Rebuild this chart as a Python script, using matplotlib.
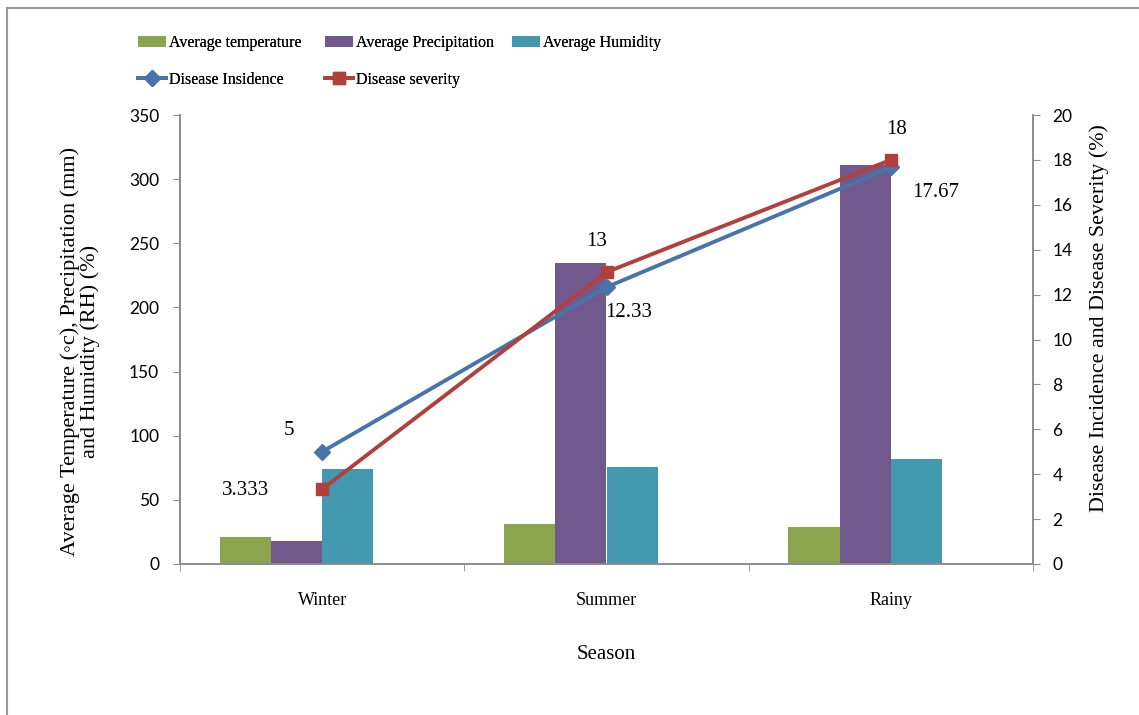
import matplotlib
matplotlib.use("Agg")
import matplotlib.pyplot as plt
import numpy as np
from matplotlib.lines import Line2D

seasons = ["Winter", "Summer", "Rainy"]
avg_temperature = [21, 31, 28.5]
avg_precipitation = [18, 235, 311]
avg_humidity = [74, 76, 82]
disease_incidence = [5, 12.33, 17.67]
disease_severity = [3.333, 13, 18]
incidence_labels = ["5", "12.33", "17.67"]
severity_labels = ["3.333", "13", "18"]

c_temp = "#8BA54E"
c_prec = "#72598D"
c_hum = "#4399B0"
c_inc = "#4674AB"
c_sev = "#B1403D"
grey = "#8C8C8C"
serif = "Liberation Serif"
sans = "Lato"

W, H = 1139, 715
fig = plt.figure(figsize=(W/100, H/100), dpi=100)
# chart-area border (left and top edges visible)
fig.add_artist(Line2D([7/W, 7/W], [0, 1-7.5/H], transform=fig.transFigure, color="#9A9A9A", lw=1.5))
fig.add_artist(Line2D([7/W, 1], [1-7.5/H, 1-7.5/H], transform=fig.transFigure, color="#9A9A9A", lw=1.5))

ax = fig.add_axes([180/W, 1-564/H, (1033-180)/W, (564-115)/H])
ax2 = ax.twinx()

x = np.arange(len(seasons))
w = 0.18
b1 = ax.bar(x - 1.5*w, avg_temperature, w, color=c_temp, label="Average temperature")
b2 = ax.bar(x - 0.5*w, avg_precipitation, w, color=c_prec, label="Average Precipitation")
b3 = ax.bar(x + 0.5*w, avg_humidity, w, color=c_hum, label="Average Humidity")

l1, = ax2.plot(x, disease_incidence, color=c_inc, lw=2.8, marker="D", ms=8, label="Disease Insidence")
l2, = ax2.plot(x, disease_severity, color=c_sev, lw=2.8, marker="s", ms=9, label="Disease severity")

ax.set_xlim(-0.5, 2.5)
ax.set_ylim(0, 350)
ax2.set_ylim(0, 20)
ax.set_yticks(np.arange(0, 351, 50))
ax2.set_yticks(np.arange(0, 21, 2))
ax.set_xticks(x)
ax.set_xticklabels(seasons, fontfamily=serif, fontsize=13)
ax.set_xticks([-0.5, 0.5, 1.5, 2.5], minor=True)
ax.tick_params(axis="x", which="major", length=0, pad=20)
ax.tick_params(axis="x", which="minor", length=5, color=grey, direction="out")

for a in (ax, ax2):
    a.spines["top"].set_visible(False)
    for s in ("left", "right", "bottom"):
        a.spines[s].set_color(grey)
        a.spines[s].set_linewidth(1.2)
ax.tick_params(axis="y", length=5, color=grey, labelsize=12.5, pad=10)
ax2.tick_params(axis="y", length=5, color=grey, labelsize=12.5, pad=9)
for lab in ax.get_yticklabels() + ax2.get_yticklabels():
    lab.set_fontfamily(sans)

ax.set_ylabel("Average Temperature (◦c), Precipitation (mm)\nand Humidity (RH) (%)",
              fontfamily=serif, fontsize=16, linespacing=1.0)
ax.yaxis.set_label_coords(-0.094, 0.474)
ax2.set_ylabel("Disease Incidence and Disease Severity (%)", fontfamily=serif, fontsize=15.8)
ax2.yaxis.set_label_coords(1.066, 0.547)
ax.set_xlabel("Season", fontfamily=serif, fontsize=15, labelpad=26)

# data labels
inc_off = [(-24, 15), (16, -18), (32, -18)]
sev_off = [(-55, -1), (-7, 22), (4, 22)]
for i in range(len(seasons)):
    ax2.annotate(incidence_labels[i], (x[i], disease_incidence[i]), xytext=inc_off[i],
                 textcoords="offset points", ha="center", va="center",
                 fontfamily=serif, fontsize=15)
    ax2.annotate(severity_labels[i], (x[i], disease_severity[i]), xytext=sev_off[i],
                 textcoords="offset points", ha="center", va="center",
                 fontfamily=serif, fontsize=15)

legend_cols = [([b1, l1], ["Average temperature", "Disease Insidence"], 138),
               ([b2, l2], ["Average Precipitation", "Disease severity"], 325),
               ([b3], ["Average Humidity"], 512)]
for hs, ls, xpos in legend_cols:
    leg = fig.legend(hs, ls, loc="upper left", bbox_to_anchor=(xpos/W, 1-35/H),
                     frameon=False, prop={"family": serif, "size": 11.5},
                     handlelength=1.75, handleheight=0.65, handletextpad=0.2,
                     labelspacing=1.3, borderpad=0, borderaxespad=0)
    fig.add_artist(leg)

fig.savefig("out.png", dpi=100)
